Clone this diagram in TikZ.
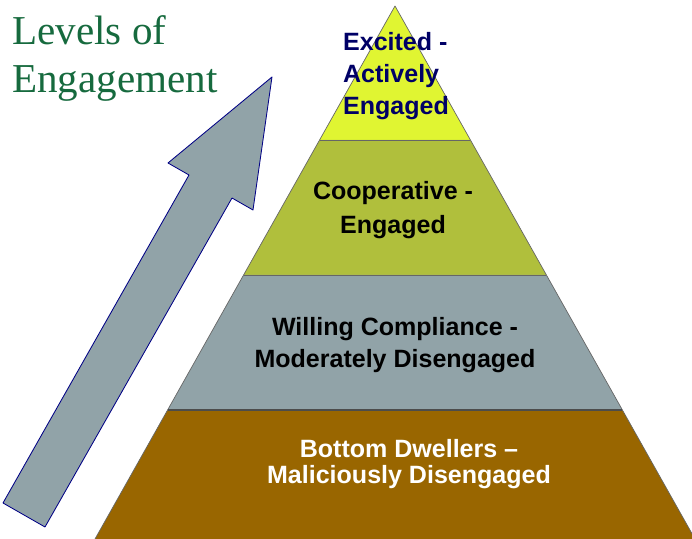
\documentclass[tikz,border=0pt]{standalone}
\usepackage{fontspec}
\setmainfont{Liberation Serif}
\setsansfont{Liberation Sans}
\usepackage{tikz}
\usetikzlibrary{calc,positioning}
\definecolor{levelyellow}{RGB}{224,245,50}
\definecolor{levelolive}{RGB}{176,191,60}
\definecolor{levelgray}{RGB}{145,163,168}
\definecolor{levelbrown}{RGB}{153,102,0}
\definecolor{titlegreen}{RGB}{22,106,62}
\definecolor{labelnavy}{RGB}{0,0,102}

\begin{document}
\begin{tikzpicture}[x=.025cm,y=.025cm,line join=round,
  tier/.style={draw=black!60,line width=.5pt},
  tierlabel/.style={font=\fontsize{17.8}{22.8}\selectfont\sffamily\bfseries,align=center,inner sep=0pt},
  headline/.style={font=\fontsize{29.2}{34}\selectfont,text=titlegreen,inner sep=0pt,anchor=base west}]
\useasboundingbox (0,0) rectangle (692,539);
% Piramida: wierzchołek, podstawa i granice poziomów.
\coordinate (apex) at (395,533);
\coordinate (bl) at (95,0);
\coordinate (br) at (695,0);
\foreach \t/\n in {.2514/a,.5047/b,.7580/c}{
  \coordinate (l\n) at ($(apex)!\t!(bl)$);
  \coordinate (r\n) at ($(apex)!\t!(br)$);
}
\fill[levelyellow] (apex) -- (la) -- (ra) -- cycle;
\fill[levelolive] (la) -- (lb) -- (rb) -- (ra) -- cycle;
\fill[levelgray] (lb) -- (lc) -- (rc) -- (rb) -- cycle;
\fill[levelbrown] (lc) -- (bl) -- (br) -- (rc) -- cycle;
\draw[tier] (bl) -- (apex) -- (br);
\draw[tier] (la) -- (ra) (lb) -- (rb);
\draw[black!70,line width=1.2pt] (lc) -- (rc);
% Strzałka w górę po lewej stronie.
\draw[fill=levelgray,draw=labelnavy!80!blue,line width=.6pt]
  (272,462) -- (253,329) -- (232,341) -- (45,12) -- (3,36) -- (189,364) -- (168,376) -- cycle;
% Tytuł i opisy poziomów.
\node[headline] (title) at (12,494) {Levels of};
\node[headline] (subtitle) at (12,446) {Engagement};
\node[tierlabel,text=labelnavy,align=left] (excited) at (396,463) {Excited -\\Actively\\Engaged};
\node[tierlabel,font=\fontsize{17.8}{24.2}\selectfont\sffamily\bfseries] (coop) at (393,329) {Cooperative -\\Engaged};
\node[tierlabel] (willing) at (395,194) {Willing Compliance -\\Moderately Disengaged};
\node[tierlabel,text=white,font=\fontsize{17.8}{18.5}\selectfont\sffamily\bfseries] (dwellers) at (409,75) {Bottom Dwellers --\\Maliciously Disengaged};
\end{tikzpicture}
\end{document}
